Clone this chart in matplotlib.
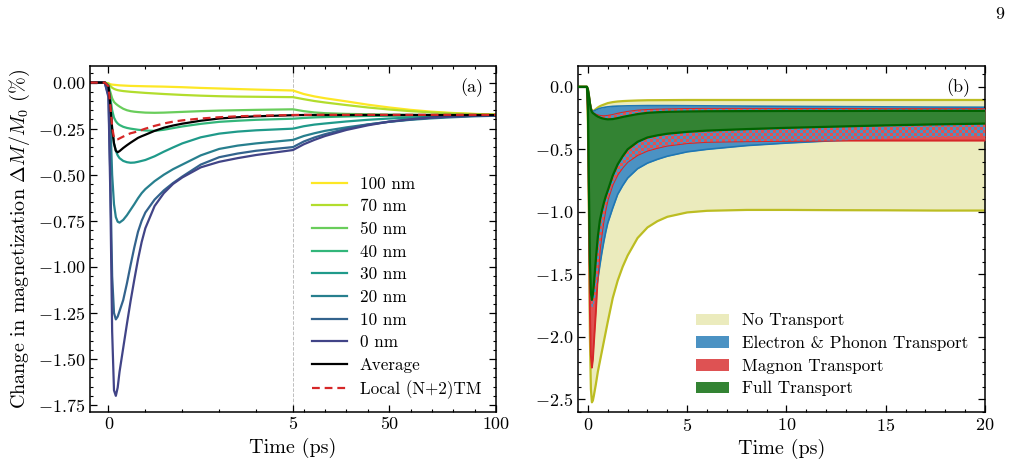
import numpy as np
import matplotlib
matplotlib.use("Agg")
import matplotlib.pyplot as plt
from matplotlib.patches import Patch
from matplotlib.colors import ListedColormap
from matplotlib.ticker import MultipleLocator

# ---------------- Panel (a) data ----------------
time_a = [-0.5, -0.1, 0.0, 0.05, 0.1, 0.15, 0.2, 0.25, 0.3, 0.4, 0.5, 0.6, 0.7, 0.8, 0.9, 1.0,
          1.25, 1.5, 1.75, 2.0, 2.5, 3.0, 3.5, 4.0, 5.0, 10, 15, 20, 30, 40, 50, 60, 70, 80, 90, 100]
depth_labels = ["100 nm", "70 nm", "50 nm", "40 nm", "30 nm", "20 nm", "10 nm", "0 nm"]
dm_100nm = [0, 0, -0.004, -0.009, -0.011, -0.012, -0.013, -0.014, -0.015, -0.016, -0.017, -0.018,
            -0.0185, -0.019, -0.0195, -0.02, -0.021, -0.022, -0.0235, -0.025, -0.029, -0.032,
            -0.035, -0.038, -0.043,
            -0.062, -0.075, -0.085, -0.102, -0.12, -0.135, -0.148, -0.158, -0.165, -0.17, -0.173]
dm_70nm = [0, 0, -0.006, -0.018, -0.028, -0.034, -0.038, -0.041, -0.043, -0.046, -0.048, -0.05,
           -0.0515, -0.053, -0.0545, -0.056, -0.059, -0.062, -0.0645, -0.067, -0.071, -0.074,
           -0.076, -0.077, -0.079,
           -0.09, -0.1, -0.108, -0.122, -0.135, -0.146, -0.155, -0.162, -0.167, -0.171, -0.174]
dm_50nm = [0, 0, -0.012, -0.05, -0.085, -0.105, -0.115, -0.123, -0.13, -0.142, -0.15, -0.155,
           -0.158, -0.16, -0.1615, -0.163, -0.164, -0.163, -0.161, -0.159, -0.155, -0.152,
           -0.15, -0.148, -0.145,
           -0.155, -0.162, -0.166, -0.17, -0.172, -0.174, -0.175, -0.176, -0.176, -0.176, -0.176]
dm_40nm = [0, 0, -0.015, -0.08, -0.15, -0.19, -0.21, -0.222, -0.23, -0.24, -0.246, -0.25,
           -0.253, -0.256, -0.258, -0.26, -0.262, -0.256, -0.247, -0.238, -0.224, -0.213,
           -0.207, -0.202, -0.196,
           -0.192, -0.189, -0.187, -0.184, -0.181, -0.18, -0.179, -0.178, -0.177, -0.177, -0.177]
dm_30nm = [0, 0, -0.02, -0.1, -0.25, -0.33, -0.37, -0.395, -0.41, -0.425, -0.432, -0.435,
           -0.434, -0.43, -0.425, -0.42, -0.4, -0.375, -0.352, -0.33, -0.297, -0.277,
           -0.266, -0.259, -0.25,
           -0.237, -0.228, -0.222, -0.211, -0.202, -0.195, -0.19, -0.186, -0.183, -0.18, -0.178]
dm_20nm = [0, 0, -0.03, -0.2, -0.5, -0.66, -0.73, -0.755, -0.76, -0.745, -0.72, -0.69,
           -0.66, -0.628, -0.6, -0.578, -0.535, -0.5, -0.47, -0.445, -0.395, -0.36,
           -0.342, -0.33, -0.311,
           -0.29, -0.275, -0.262, -0.243, -0.227, -0.213, -0.202, -0.194, -0.188, -0.183, -0.18]
dm_10nm = [0, 0, -0.07, -0.5, -1.05, -1.25, -1.285, -1.27, -1.24, -1.18, -1.09, -0.99,
           -0.895, -0.81, -0.75, -0.705, -0.635, -0.585, -0.545, -0.51, -0.445, -0.405,
           -0.385, -0.37, -0.35,
           -0.32, -0.298, -0.28, -0.25, -0.228, -0.212, -0.2, -0.19, -0.184, -0.18, -0.178]
dm_0nm = [0, 0, -0.08, -0.6, -1.35, -1.67, -1.70, -1.655, -1.57, -1.44, -1.31, -1.185,
          -1.07, -0.96, -0.865, -0.79, -0.67, -0.6, -0.55, -0.515, -0.46, -0.43,
          -0.41, -0.393, -0.366,
          -0.335, -0.311, -0.29, -0.257, -0.232, -0.212, -0.199, -0.19, -0.184, -0.18, -0.178]
dm_average = [0, 0, -0.02, -0.12, -0.25, -0.33, -0.37, -0.378, -0.372, -0.355, -0.34, -0.326,
              -0.313, -0.30, -0.291, -0.283, -0.262, -0.245, -0.233, -0.223, -0.207, -0.195,
              -0.188, -0.183, -0.177,
              -0.176, -0.176, -0.176, -0.176, -0.176, -0.176, -0.176, -0.176, -0.176, -0.176, -0.176]
dm_local = [0, 0, -0.02, -0.12, -0.24, -0.30, -0.31, -0.308, -0.303, -0.293, -0.283, -0.275,
            -0.27, -0.264, -0.257, -0.25, -0.235, -0.222, -0.212, -0.205, -0.195, -0.188,
            -0.183, -0.18, -0.176,
            -0.175, -0.175, -0.175, -0.175, -0.175, -0.175, -0.175, -0.175, -0.175, -0.175, -0.175]

# ---------------- Panel (b) data ----------------
time_b = [-0.5, -0.05, 0.0, 0.05, 0.1, 0.15, 0.2, 0.25, 0.3, 0.4, 0.5, 0.6, 0.7, 0.8, 0.9, 1.0,
          1.25, 1.5, 1.75, 2.0, 2.5, 3.0, 3.5, 4.0, 5.0, 6.0, 8.0, 10, 12.5, 15, 17.5, 20]
no_tr_upper = [0, 0, -0.02, -0.07, -0.13, -0.17, -0.19, -0.193, -0.19, -0.178, -0.165, -0.155,
               -0.148, -0.142, -0.136, -0.13, -0.122, -0.117, -0.114, -0.112, -0.109, -0.107,
               -0.1065, -0.106, -0.105, -0.105, -0.105, -0.105, -0.105, -0.105, -0.105, -0.105]
no_tr_lower = [0, 0, -0.3, -1.0, -2.0, -2.42, -2.525, -2.51, -2.47, -2.38, -2.28, -2.2,
               -2.12, -2.04, -1.96, -1.88, -1.69, -1.55, -1.44, -1.35, -1.21, -1.125,
               -1.075, -1.04, -1.005, -0.992, -0.985, -0.985, -0.987, -0.988, -0.99, -0.99]
ep_upper = [0, 0, -0.02, -0.07, -0.13, -0.17, -0.19, -0.195, -0.193, -0.185, -0.178, -0.172,
            -0.168, -0.165, -0.162, -0.16, -0.156, -0.154, -0.153, -0.152, -0.151, -0.15,
            -0.15, -0.15, -0.151, -0.152, -0.154, -0.156, -0.158, -0.16, -0.162, -0.163]
ep_lower = [0, 0, -0.2, -0.9, -1.5, -1.72, -1.78, -1.77, -1.74, -1.65, -1.54, -1.43,
            -1.33, -1.24, -1.16, -1.09, -0.97, -0.86, -0.79, -0.73, -0.655, -0.61,
            -0.58, -0.555, -0.52, -0.5, -0.47, -0.45, -0.43, -0.415, -0.402, -0.393]
mag_upper = [0, 0, -0.02, -0.07, -0.13, -0.17, -0.2, -0.21, -0.215, -0.222, -0.228, -0.232,
             -0.234, -0.235, -0.234, -0.232, -0.225, -0.215, -0.207, -0.2, -0.19, -0.185,
             -0.182, -0.18, -0.177, -0.176, -0.176, -0.177, -0.177, -0.178, -0.178, -0.178]
mag_lower = [0, 0, -0.2, -1.0, -1.8, -2.15, -2.247, -2.18, -2.05, -1.8, -1.5, -1.3,
             -1.17, -1.06, -0.97, -0.9, -0.78, -0.7, -0.645, -0.6, -0.545, -0.51,
             -0.488, -0.47, -0.45, -0.44, -0.435, -0.432, -0.43, -0.43, -0.43, -0.43]
full_upper = [0, 0, -0.02, -0.07, -0.13, -0.18, -0.2, -0.21, -0.215, -0.228, -0.238, -0.245,
              -0.251, -0.255, -0.258, -0.26, -0.258, -0.25, -0.241, -0.233, -0.218, -0.208,
              -0.203, -0.2, -0.197, -0.195, -0.194, -0.193, -0.193, -0.192, -0.192, -0.192]
full_lower = [0, 0, -0.15, -0.8, -1.4, -1.65, -1.705, -1.66, -1.58, -1.38, -1.2, -1.07,
              -0.995, -0.93, -0.875, -0.83, -0.71, -0.62, -0.555, -0.5, -0.44, -0.405,
              -0.388, -0.375, -0.36, -0.35, -0.338, -0.328, -0.318, -0.308, -0.3, -0.294]
band_labels = ["No Transport", "Electron & Phonon Transport", "Magnon Transport", "Full Transport"]

# ---------------- Style ----------------
plt.rcParams.update({
    "font.family": ["cmr10", "DejaVu Serif"],
    "mathtext.fontset": "cm",
    "axes.formatter.use_mathtext": True,
    "axes.unicode_minus": True,
    "font.size": 13,
    "xtick.direction": "in", "ytick.direction": "in",
    "xtick.top": True, "ytick.right": True,
    "xtick.major.size": 4.8, "ytick.major.size": 4.8,
    "xtick.minor.size": 2.4, "ytick.minor.size": 2.4,
    "xtick.major.width": 0.9, "ytick.major.width": 0.9,
    "xtick.minor.width": 0.8, "ytick.minor.width": 0.8,
    "xtick.minor.visible": True, "ytick.minor.visible": True,
    "axes.linewidth": 1.1,
    "xtick.labelsize": 13, "ytick.labelsize": 13,
    "axes.labelsize": 14.5,
})

fig = plt.figure(figsize=(10.14, 4.70), dpi=100)
ax1 = fig.add_axes([90 / 1014, 1 - 411.7 / 470, 406 / 1014, 345.7 / 470])
ax2 = fig.add_axes([578 / 1014, 1 - 411.7 / 470, 407 / 1014, 345.7 / 470])

# ---- Panel (a): broken-linear time axis (0-5 ps and 5-100 ps share the width) ----
K = 5.5 / 95.0


def fwd(x):
    x = np.asarray(x, dtype=float)
    return np.where(x <= 5, x, 5 + (x - 5) * K)


def inv(y):
    y = np.asarray(y, dtype=float)
    return np.where(y <= 5, y, 5 + (y - 5) / K)


ax1.set_xscale("function", functions=(fwd, inv))
ax1.set_xlim(-0.5, 100)
ax1.set_ylim(-1.786, 0.09)

series_a = [dm_100nm, dm_70nm, dm_50nm, dm_40nm, dm_30nm, dm_20nm, dm_10nm, dm_0nm]
cols = plt.cm.viridis(np.linspace(1.0, 0.2, 8))
ax1.axvline(5, color="0.75", ls="--", lw=0.7, zorder=0)
for vals, lab, c in zip(series_a, depth_labels, cols):
    ax1.plot(time_a, vals, color=c, lw=1.6, label=lab)
ax1.plot(time_a, dm_average, color="black", lw=1.6, label="Average")
ax1.plot(time_a, dm_local, color="#d62728", lw=1.6, ls=(0, (3.5, 2.2)), label="Local (N+2)TM")

ax1.set_xticks([0, 5, 50, 100])
ax1.set_xticklabels(["0", "5", "50", "100"])
ax1.set_xticks([1, 2, 3, 4, 10, 20, 30, 40, 60, 70, 80, 90], minor=True)
ax1.yaxis.set_major_locator(MultipleLocator(0.25))
ax1.yaxis.set_minor_locator(MultipleLocator(0.05))
ax1.set_xlabel("Time (ps)")
ax1.set_ylabel(r"Change in magnetization $\Delta M/M_0$ (%)")
ax1.text(0.968, 0.936, "(a)", transform=ax1.transAxes, ha="right", va="center", fontsize=13)
ax1.legend(loc="upper left", bbox_to_anchor=(0.547, 0.681), frameon=False,
           fontsize=12.3, handlelength=2.05, handletextpad=0.75, labelspacing=0.43,
           borderpad=0, borderaxespad=0)

# ---- Panel (b) ----
ax2.set_xlim(-0.5, 20)
ax2.set_ylim(-2.6, 0.167)
c_olive = "#bcbd22"
c_pale = "#ebebbd"
c_blue_e = "#1f77b4"
c_blue = "#4b92c3"
c_red_e = "#d62728"
c_red = "#de5253"
c_green_e = "#006400"
c_green = "#338333"

ax2.fill_between(time_b, no_tr_lower, no_tr_upper, color=c_pale, lw=0, zorder=1)
ax2.plot(time_b, no_tr_upper, color=c_olive, lw=1.6, zorder=1.1)
ax2.plot(time_b, no_tr_lower, color=c_olive, lw=1.6, zorder=1.1)
ax2.fill_between(time_b, ep_lower, ep_upper, color=c_blue, lw=0, zorder=2)
ax2.plot(time_b, ep_upper, color=c_blue_e, lw=1.2, zorder=2.1)
ax2.plot(time_b, ep_lower, color=c_blue_e, lw=1.2, zorder=2.1)
ax2.fill_between(time_b, mag_lower, mag_upper, color=c_red, lw=0, zorder=3)
ax2.plot(time_b, mag_upper, color=c_red_e, lw=1.4, zorder=3.1)
ax2.plot(time_b, mag_lower, color=c_red_e, lw=1.4, zorder=3.1)

# checkerboard where the electron/phonon and magnon bands overlap
ov_lo = np.maximum(np.asarray(ep_lower), np.asarray(mag_lower))
ov_hi = np.minimum(np.asarray(ep_upper), np.asarray(mag_upper))
ov = ax2.fill_between(time_b, ov_lo, ov_hi, facecolor="none", edgecolor="none", zorder=3.2)
clip = ov.get_paths()[0]
nx, ny = 407, 346
jj, ii = np.meshgrid(np.arange(nx), np.arange(ny))
checker = ((jj // 3 + ii // 3) % 2).astype(float)
im = ax2.imshow(checker, extent=(-0.5, 20, -2.6, 0.167), origin="lower", aspect="auto",
                cmap=ListedColormap([c_red, c_blue]), interpolation="nearest", zorder=3.3)
im.set_clip_path(clip, transform=ax2.transData)

ax2.fill_between(time_b, full_lower, full_upper, color=c_green, lw=0, zorder=4)
ax2.plot(time_b, full_upper, color=c_green_e, lw=1.6, zorder=4.1)
ax2.plot(time_b, full_lower, color=c_green_e, lw=1.6, zorder=4.1)

ax2.xaxis.set_major_locator(MultipleLocator(5))
ax2.xaxis.set_minor_locator(MultipleLocator(1))
ax2.yaxis.set_major_locator(MultipleLocator(0.5))
ax2.yaxis.set_minor_locator(MultipleLocator(0.1))
ax2.set_xlabel("Time (ps)")
ax2.text(0.963, 0.937, "(b)", transform=ax2.transAxes, ha="right", va="center", fontsize=13)
handles_b = [Patch(facecolor=c, edgecolor="none") for c in (c_pale, c_blue, c_red, c_green)]
ax2.legend(handles_b, band_labels, loc="upper left", bbox_to_anchor=(0.29, 0.285),
           frameon=False, fontsize=12.3, handlelength=1.95, handleheight=0.7,
           handletextpad=0.75, labelspacing=0.43, borderpad=0, borderaxespad=0)

fig.text(1000 / 1014, 1 - 14 / 470, "9", ha="center", va="center", fontsize=13)
fig.savefig("out.png", dpi=100)
